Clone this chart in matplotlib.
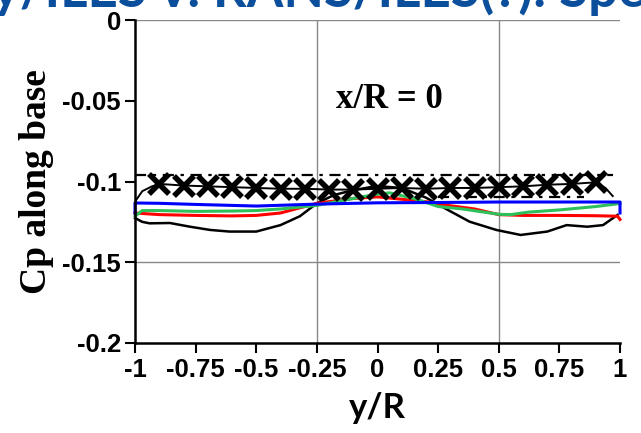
import matplotlib
matplotlib.use("Agg")
import matplotlib.pyplot as plt

# base pressure coefficient across the base, x/R = 0
x_tick_vals = [-1, -0.75, -0.5, -0.25, 0, 0.25, 0.5, 0.75, 1]
x_tick_text = ['-1', '-0.75', '-0.5', '-0.25', '0', '0.25', '0.5', '0.75', '1']
y_tick_vals = [0, -0.05, -0.1, -0.15, -0.2]
y_tick_text = ['0', '-0.05', '-0.1', '-0.15', '-0.2']

# experiment (crosses) and its band
exp_y = [-0.9, -0.8, -0.7, -0.6, -0.5, -0.4, -0.3, -0.2, -0.1, 0.0,
         0.1, 0.2, 0.3, 0.4, 0.5, 0.6, 0.7, 0.8, 0.9]
exp_cp = [-0.1015, -0.1025, -0.103, -0.1035, -0.104, -0.1045, -0.1045, -0.105, -0.105, -0.1045,
          -0.104, -0.1045, -0.104, -0.104, -0.1035, -0.103, -0.102, -0.1015, -0.1005]
exp_line_y = [-1.0, -0.97, -0.93] + exp_y + [0.94, 0.97]
exp_line_cp = [-0.1125, -0.106, -0.103] + exp_cp + [-0.104, -0.109]
band_hi_y = [-1.0, 0.97]
band_hi_cp = [-0.096, -0.096]
band_lo_y = [0.25, 0.85]
band_lo_cp = [-0.1095, -0.1095]

blue_y = [-1, -1, -0.9, -0.75, -0.5, -0.25, 0, 0.25, 0.5, 0.75, 0.99, 1, 1]
blue_cp = [-0.1195, -0.1133, -0.1135, -0.1142, -0.1152, -0.114, -0.1132, -0.113, -0.1127,
           -0.1127, -0.1127, -0.1127, -0.1195]

red_y = [-1, -0.9, -0.75, -0.6, -0.5, -0.4, -0.25, -0.1, 0, 0.1, 0.2, 0.3, 0.4, 0.5,
         0.6, 0.75, 0.9, 0.99, 1]
red_cp = [-0.1195, -0.1205, -0.121, -0.1213, -0.121, -0.1195, -0.1135, -0.1105, -0.1095,
          -0.111, -0.1125, -0.115, -0.117, -0.1205, -0.121, -0.121, -0.1212, -0.1215, -0.1235]

green_y = [-1, -0.97, -0.9, -0.75, -0.6, -0.5, -0.4, -0.25, -0.1, 0, 0.05, 0.15, 0.25,
           0.35, 0.5, 0.55, 0.62, 0.75, 0.9, 0.98, 1]
green_cp = [-0.1215, -0.118, -0.118, -0.1185, -0.1183, -0.118, -0.117, -0.1148, -0.1105,
            -0.1078, -0.107, -0.1105, -0.1155, -0.117, -0.1203, -0.1205, -0.119, -0.1176,
            -0.1155, -0.114, -0.1135]

black_y = [-1, -0.97, -0.94, -0.856, -0.773, -0.69, -0.61, -0.5, -0.4, -0.32, -0.25, -0.18,
           -0.11, -0.03, 0.03, 0.1, 0.2, 0.29, 0.38, 0.49, 0.59, 0.7, 0.78, 0.865, 0.93, 0.99]
black_cp = [-0.1226, -0.125, -0.1259, -0.1257, -0.128, -0.130, -0.131, -0.131, -0.127,
            -0.1215, -0.1135, -0.1084, -0.1057, -0.1035, -0.1032, -0.104, -0.110, -0.1176,
            -0.1249, -0.130, -0.1331, -0.131, -0.127, -0.128, -0.127, -0.1207]

fig = plt.figure(figsize=(6.41, 4.33), dpi=100)
ax = fig.add_axes([135 / 641, 1 - 343 / 433, 485 / 641, 323 / 433])

# a few reference lines
for gx in [-0.25, 0.5]:
    ax.axvline(gx, color='#888888', lw=1.0, zorder=0)
for gy in [0, -0.15]:
    ax.axhline(gy, color='#888888', lw=1.0, zorder=0)

ax.plot(band_hi_y, band_hi_cp, color='black', lw=1.6, dashes=[5, 3, 1.5, 3])
ax.plot(band_lo_y, band_lo_cp, color='black', lw=1.6, dashes=[5, 3, 1.5, 3])
ax.plot(black_y, black_cp, color='black', lw=1.8, clip_on=False)
ax.plot(red_y, red_cp, color='#ff0000', lw=2.2, clip_on=False)
ax.plot(green_y, green_cp, color='#2ec05a', lw=2.2, clip_on=False)
ax.plot(blue_y, blue_cp, color='#0000ff', lw=2.2, clip_on=False)
ax.plot(exp_line_y, exp_line_cp, color='black', lw=1.4)
ax.plot(exp_y, exp_cp, 'x', color='black', ms=14, mew=4)

ax.set_xlim(-1, 1)
ax.set_ylim(-0.2, 0)
ax.spines['top'].set_visible(False)
ax.spines['right'].set_visible(False)
ax.spines['left'].set_linewidth(1.8)
ax.spines['bottom'].set_linewidth(1.8)
ax.tick_params(direction='out', length=7, width=1.5, colors='black')

tick_font = dict(family='Liberation Sans', weight='bold', size=18.5)
ax.set_xticks(x_tick_vals)
ax.set_xticklabels(x_tick_text, fontdict=tick_font)
ax.set_yticks(y_tick_vals)
ax.set_yticklabels(y_tick_text, fontdict=tick_font)
ax.tick_params(axis='x', pad=4)
ax.tick_params(axis='y', pad=3)

ax.set_xlabel('y/R', family='Lato', weight='bold', size=25, labelpad=7)
ax.set_ylabel('Cp along base', family='Liberation Serif', weight='bold', size=27, labelpad=6)

ax.text(0.047, -0.0495, 'x/R = 0', family='Liberation Serif', weight='bold', size=25,
        ha='center', va='center')

fig.text(-0.012, 1 - 7 / 433, 'y/ILES v. RANS/ILES(?): Spectra', family='Lato',
         weight='bold', size=38, color='#0b4f9c', ha='left', va='baseline')

fig.savefig('out.png', dpi=100)
